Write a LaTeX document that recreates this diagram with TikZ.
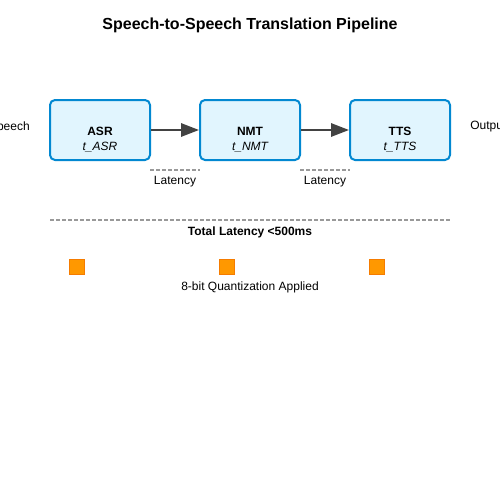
\documentclass[tikz,border=0pt]{standalone}
\usepackage{fontspec}
\setmainfont{Liberation Sans}
\usetikzlibrary{arrows.meta}
\definecolor{boxfill}{HTML}{E1F5FE}
\definecolor{boxline}{HTML}{0288D1}
\definecolor{arrowc}{HTML}{424242}
\definecolor{dashc}{HTML}{999999}
\definecolor{sqfill}{HTML}{FF9800}
\definecolor{sqline}{HTML}{F57C00}
\tikzset{
  stagebox/.style={draw=boxline, fill=boxfill, line width=1.5pt, rounded corners=3.75pt,
    minimum width=75pt, minimum height=45pt, inner sep=0pt},
  flow/.style={draw=arrowc, line width=1.5pt, -{Triangle[length=13.5pt,width=10pt]}},
  lat/.style={draw=dashc, line width=1.1pt, dash pattern=on 3pt off 1.5pt},
  qsq/.style={draw=sqline, fill=sqfill, line width=0.8pt, minimum size=11.25pt, inner sep=0pt},
  lbl/.style={font=\fontsize{9pt}{11pt}\selectfont, inner sep=0pt},
}
\begin{document}
\begin{tikzpicture}[x=0.75pt,y=-0.75pt]
\useasboundingbox (0,0) rectangle (500,500);
\clip (0,0) rectangle (500,500);
\fill[white] (0,0) rectangle (500,500);
\node[font=\fontsize{12pt}{14pt}\selectfont\bfseries, inner sep=0pt] (title) at (250,25) {Speech-to-Speech Translation Pipeline};

\node[stagebox] (asr) at (100,130) {};
\node[stagebox] (nmt) at (250,130) {};
\node[stagebox] (tts) at (400,130) {};
\node[lbl, font=\fontsize{9pt}{11pt}\selectfont\bfseries] (asrn) at (100,131.5) {ASR};
\node[lbl, font=\fontsize{9pt}{11pt}\selectfont\itshape] (asrt) at (100,147) {t\_ASR};
\node[lbl, font=\fontsize{9pt}{11pt}\selectfont\bfseries] (nmtn) at (250,131.5) {NMT};
\node[lbl, font=\fontsize{9pt}{11pt}\selectfont\itshape] (nmtt) at (250,147) {t\_NMT};
\node[lbl, font=\fontsize{9pt}{11pt}\selectfont\bfseries] (ttsn) at (400,131.5) {TTS};
\node[lbl, font=\fontsize{9pt}{11pt}\selectfont\itshape] (ttst) at (400,147) {t\_TTS};

\node[lbl, anchor=east] (inp) at (30,127) {Speech};
\node[lbl, anchor=west] (outp) at (470,127) {Output};

\draw[flow] (asr.east) -- (nmt.west);
\draw[flow] (nmt.east) -- (tts.west);

\coordinate (l1a) at (150,170); \coordinate (l1b) at (200,170);
\coordinate (l2a) at (300,170); \coordinate (l2b) at (350,170);
\draw[lat] (l1a) -- (l1b);
\draw[lat] (l2a) -- (l2b);
\node[lbl] (lat1) at (175,182) {Latency};
\node[lbl] (lat2) at (325,182) {Latency};

\coordinate (ta) at (50,220); \coordinate (tb) at (450,220);
\draw[lat] (ta) -- (tb);
\node[lbl, font=\fontsize{9pt}{11pt}\selectfont\bfseries] (total) at (250,232) {Total Latency <500ms};

\node[qsq] (q1) at (77,267) {};
\node[qsq] (q2) at (227,267) {};
\node[qsq] (q3) at (377,267) {};
\node[lbl] (quant) at (250,287) {8-bit Quantization Applied};
\end{tikzpicture}
\end{document}
